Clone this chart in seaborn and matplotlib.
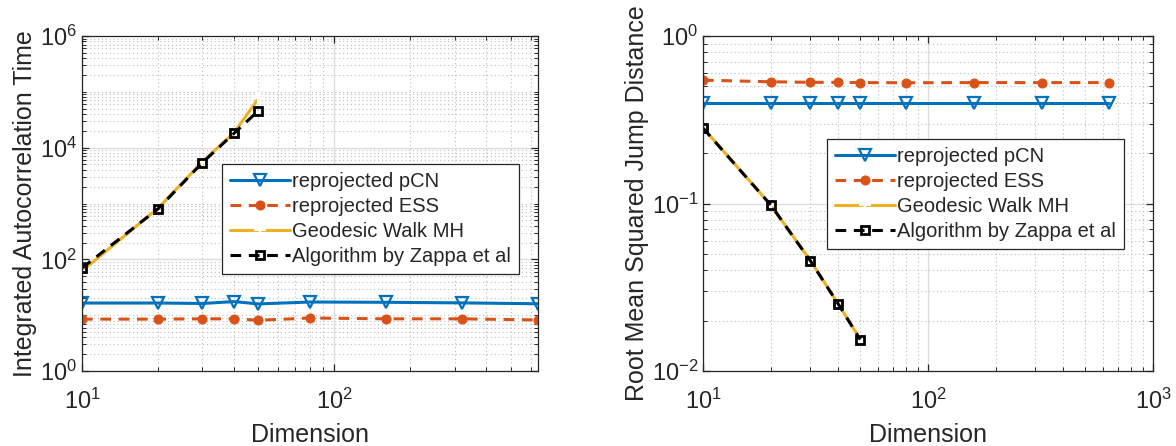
import numpy as np
import pandas as pd
import matplotlib
matplotlib.use('Agg')
import matplotlib.pyplot as plt
import matplotlib.ticker as mticker
import seaborn as sns

# data
dims = [10, 20, 30, 40, 50, 80, 160, 320, 640]
dims_short = [10, 20, 30, 40, 50]

iat_pcn = [16.5, 16.5, 16.2, 17.5, 15.9, 17.2, 17.0, 16.6, 16.0]
iat_ess = [8.5, 8.5, 8.6, 8.6, 8.1, 8.9, 8.6, 8.6, 8.2]
iat_geo = [62, 820, 5600, 18500, 76000]
iat_zappa = [70, 800, 5400, 18000, 46000]

rmsjd_pcn = [0.40, 0.40, 0.40, 0.40, 0.40, 0.40, 0.40, 0.40, 0.40]
rmsjd_ess = [0.545, 0.533, 0.529, 0.529, 0.527, 0.526, 0.527, 0.527, 0.527]
rmsjd_geo = [0.283, 0.098, 0.0457, 0.025, 0.0155]
rmsjd_zappa = [0.282, 0.098, 0.0455, 0.025, 0.0154]

labels = ['reprojected pCN', 'reprojected ESS', 'Geodesic Walk MH', 'Algorithm by Zappa et al']

BLUE = '#0072BD'
ORANGE = '#D95319'
YELLOW = '#EDB120'

sns.set_style('ticks')
plt.rcParams['font.family'] = ['Liberation Sans', 'DejaVu Sans']
plt.rcParams['mathtext.fontset'] = 'custom'
plt.rcParams['mathtext.rm'] = 'Liberation Sans'
plt.rcParams['mathtext.it'] = 'Liberation Sans:italic'

fig = plt.figure(figsize=(11.76, 4.46), dpi=100)
W, H = 1176, 446
ax1 = fig.add_axes([82 / W, 1 - 371 / H, (538 - 82) / W, (371 - 36) / H])
ax2 = fig.add_axes([703 / W, 1 - 371 / H, (1153 - 703) / W, (371 - 36) / H])


def draw(ax, pcn, ess, geo, zappa):
    sns.lineplot(x=dims, y=pcn, ax=ax, color=BLUE, lw=2.2, marker='v', ms=9,
                 mfc='none', mec=BLUE, mew=1.6, label=labels[0])
    sns.lineplot(x=dims, y=ess, ax=ax, color=ORANGE, lw=2.2, ls=(0, (3.5, 2.5)),
                 marker='o', ms=6.5, mfc=ORANGE, mec=ORANGE, label=labels[1])
    sns.lineplot(x=dims_short, y=geo, ax=ax, color=YELLOW, lw=2.2, marker='+',
                 ms=9, mew=1.6, label=labels[2])
    sns.lineplot(x=dims_short, y=zappa, ax=ax, color='k', lw=2.2, ls=(0, (3.5, 2.5)),
                 marker='s', ms=6, mfc='none', mec='k', mew=2, label=labels[3])
    ax.set_xscale('log')
    ax.set_yscale('log')
    ax.grid(True, which='major', color='#dcdcdc', lw=0.9, ls='-')
    ax.grid(True, which='minor', color='#bdbdbd', lw=0.8, ls=(0, (1, 2.5)))
    ax.tick_params(which='both', direction='in', top=True, right=True,
                   labelsize=17, color='#262626')
    ax.tick_params(which='major', length=5, width=0.9)
    ax.tick_params(which='minor', length=3, width=0.7)
    ax.tick_params(axis='x', pad=13)
    for s in ax.spines.values():
        s.set_color('#262626')
        s.set_linewidth(0.9)
    ax.set_xlabel('Dimension', fontsize=18, labelpad=6)
    ax.xaxis.set_minor_locator(mticker.LogLocator(base=10, subs=np.arange(1, 10)))
    ax.yaxis.set_minor_locator(mticker.LogLocator(base=10, subs=np.arange(1, 10), numticks=30))
    ax.xaxis.set_minor_formatter(mticker.NullFormatter())
    ax.yaxis.set_minor_formatter(mticker.NullFormatter())


legend_kw = dict(loc='upper left', fontsize=14.5, frameon=True, fancybox=False,
                 framealpha=1, edgecolor='#262626', handlelength=3.0,
                 handletextpad=0.1, labelspacing=0.3, borderpad=0.4, borderaxespad=0)

draw(ax1, iat_pcn, iat_ess, iat_geo, iat_zappa)
ax1.set_xlim(10, 640)
ax1.set_ylim(1, 1e6)
ax1.set_xticks([10, 100])
ax1.set_yticks([1, 1e2, 1e4, 1e6])
ax1.set_ylabel('Integrated Autocorrelation Time', fontsize=18, labelpad=2)
ax1.legend(bbox_to_anchor=(140 / 456, 1 - 128 / 335), **legend_kw)

draw(ax2, rmsjd_pcn, rmsjd_ess, rmsjd_geo, rmsjd_zappa)
ax2.set_xlim(10, 1000)
ax2.set_ylim(1e-2, 1)
ax2.set_xticks([10, 100, 1000])
ax2.set_yticks([1e-2, 1e-1, 1])
ax2.set_ylabel('Root Mean Squared Jump Distance', fontsize=18, labelpad=2)
ax2.legend(bbox_to_anchor=(124 / 450, 1 - 103 / 335), **legend_kw)

for lg in (ax1.get_legend(), ax2.get_legend()):
    lg.get_frame().set_linewidth(0.9)

fig.savefig('out.png', dpi=100)
